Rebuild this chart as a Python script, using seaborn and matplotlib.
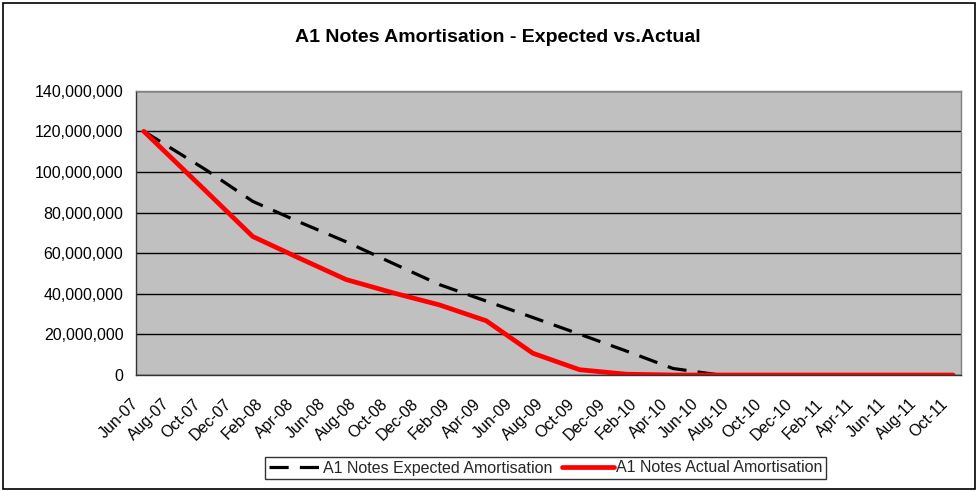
import numpy as np
import pandas as pd
import matplotlib
matplotlib.use("Agg")
import matplotlib.pyplot as plt
import seaborn as sns
from matplotlib.patches import Rectangle
from matplotlib.lines import Line2D
from matplotlib.ticker import FuncFormatter

title = "A1 Notes Amortisation - Expected vs.Actual"
series_names = ["A1 Notes Expected Amortisation", "A1 Notes Actual Amortisation"]

tick_labels = ["Jun-07", "Aug-07", "Oct-07", "Dec-07", "Feb-08", "Apr-08", "Jun-08",
               "Aug-08", "Oct-08", "Dec-08", "Feb-09", "Apr-09", "Jun-09", "Aug-09",
               "Oct-09", "Dec-09", "Feb-10", "Apr-10", "Jun-10", "Aug-10", "Oct-10",
               "Dec-10", "Feb-11", "Apr-11", "Jun-11", "Aug-11", "Oct-11"]

# month index from Jun-07 (0) for each data point
months = [0, 4, 7, 10, 13, 16, 19, 22, 25, 28, 31, 34, 37, 40, 43, 46, 49, 52]
expected = [120.0, 101.0, 85.5, 75.3, 65.6, 55.0, 44.5, 36.4, 28.3, 20.1, 11.8, 3.2,
            0, 0, 0, 0, 0, 0]
actual = [120.0, 90.5, 68.2, 57.5, 47.0, 40.5, 34.5, 26.7, 10.7, 2.6, 0.4, 0,
          0, 0, 0, 0, 0, 0]

df = pd.DataFrame({
    "x": [m + 0.5 for m in months] * 2,
    "value": [v * 1e6 for v in expected] + [v * 1e6 for v in actual],
    "series": [series_names[0]] * len(months) + [series_names[1]] * len(months),
})

sns.set_theme(style="white")
plt.rcParams["font.family"] = ["Liberation Sans", "DejaVu Sans"]

W, H = 979, 491
fig = plt.figure(figsize=(W / 100, H / 100), dpi=100)
fig.patch.set_facecolor("white")
left, right, top, bottom = 136, 961, 90.7, 375
ax = fig.add_axes([left / W, 1 - bottom / H, (right - left) / W, (bottom - top) / H])
ax.set_facecolor("#C0C0C0")

sns.lineplot(data=df, x="x", y="value", hue="series", style="series", size="series",
             hue_order=series_names, style_order=series_names, size_order=series_names,
             palette={series_names[0]: "black", series_names[1]: "#FF0000"},
             dashes={series_names[0]: (6, 3.5), series_names[1]: ""},
             sizes={series_names[0]: 2.3, series_names[1]: 3.4},
             legend=False, ax=ax)

ax.set_xlim(0, 53)
ax.set_ylim(0, 140e6)
ax.set_yticks(np.arange(0, 140e6 + 1, 20e6))
ax.yaxis.set_major_formatter(FuncFormatter(lambda v, p: f"{v:,.0f}"))
ax.set_xticks(np.arange(0, 53, 2))
ax.set_xticklabels(tick_labels, rotation=45, ha="right", rotation_mode="anchor", va="center")
ax.set_xlabel("")
ax.set_ylabel("")
ax.grid(False)
ax.yaxis.grid(True, color="black", lw=1)
ax.set_axisbelow(True)
ax.tick_params(axis="both", which="major", direction="out", length=5, width=1,
               color="#333333", labelsize=11.5, labelcolor="black")
ax.tick_params(axis="y", pad=4)
ax.tick_params(axis="x", pad=14)
for s in ["left", "bottom"]:
    ax.spines[s].set_color("#333333")
    ax.spines[s].set_linewidth(1)
for s in ["top", "right"]:
    ax.spines[s].set_color("#808080")
    ax.spines[s].set_linewidth(1)

fig.text(497.5 / W, 1 - 38 / H, title, ha="center", va="center", fontsize=14,
         fontweight="bold", color="black")

handles = [Line2D([], [], color="black", lw=2.3, dashes=(6, 3.5)),
           Line2D([], [], color="#FF0000", lw=3.4)]
leg = fig.legend(handles, series_names, loc="center", bbox_to_anchor=(545.5 / W, 1 - 468 / H),
                 ncol=2, frameon=True, fancybox=False, edgecolor="black", fontsize=11.5,
                 handlelength=3.3, handletextpad=0.1, columnspacing=0.6, borderpad=0.25,
                 borderaxespad=0)
leg.get_frame().set_linewidth(1)

fig.add_artist(Rectangle((3 / W, 2 / H), 972 / W, 486 / H, transform=fig.transFigure,
                         fill=False, ec="black", lw=1.2))

fig.savefig("out.png", dpi=100)
